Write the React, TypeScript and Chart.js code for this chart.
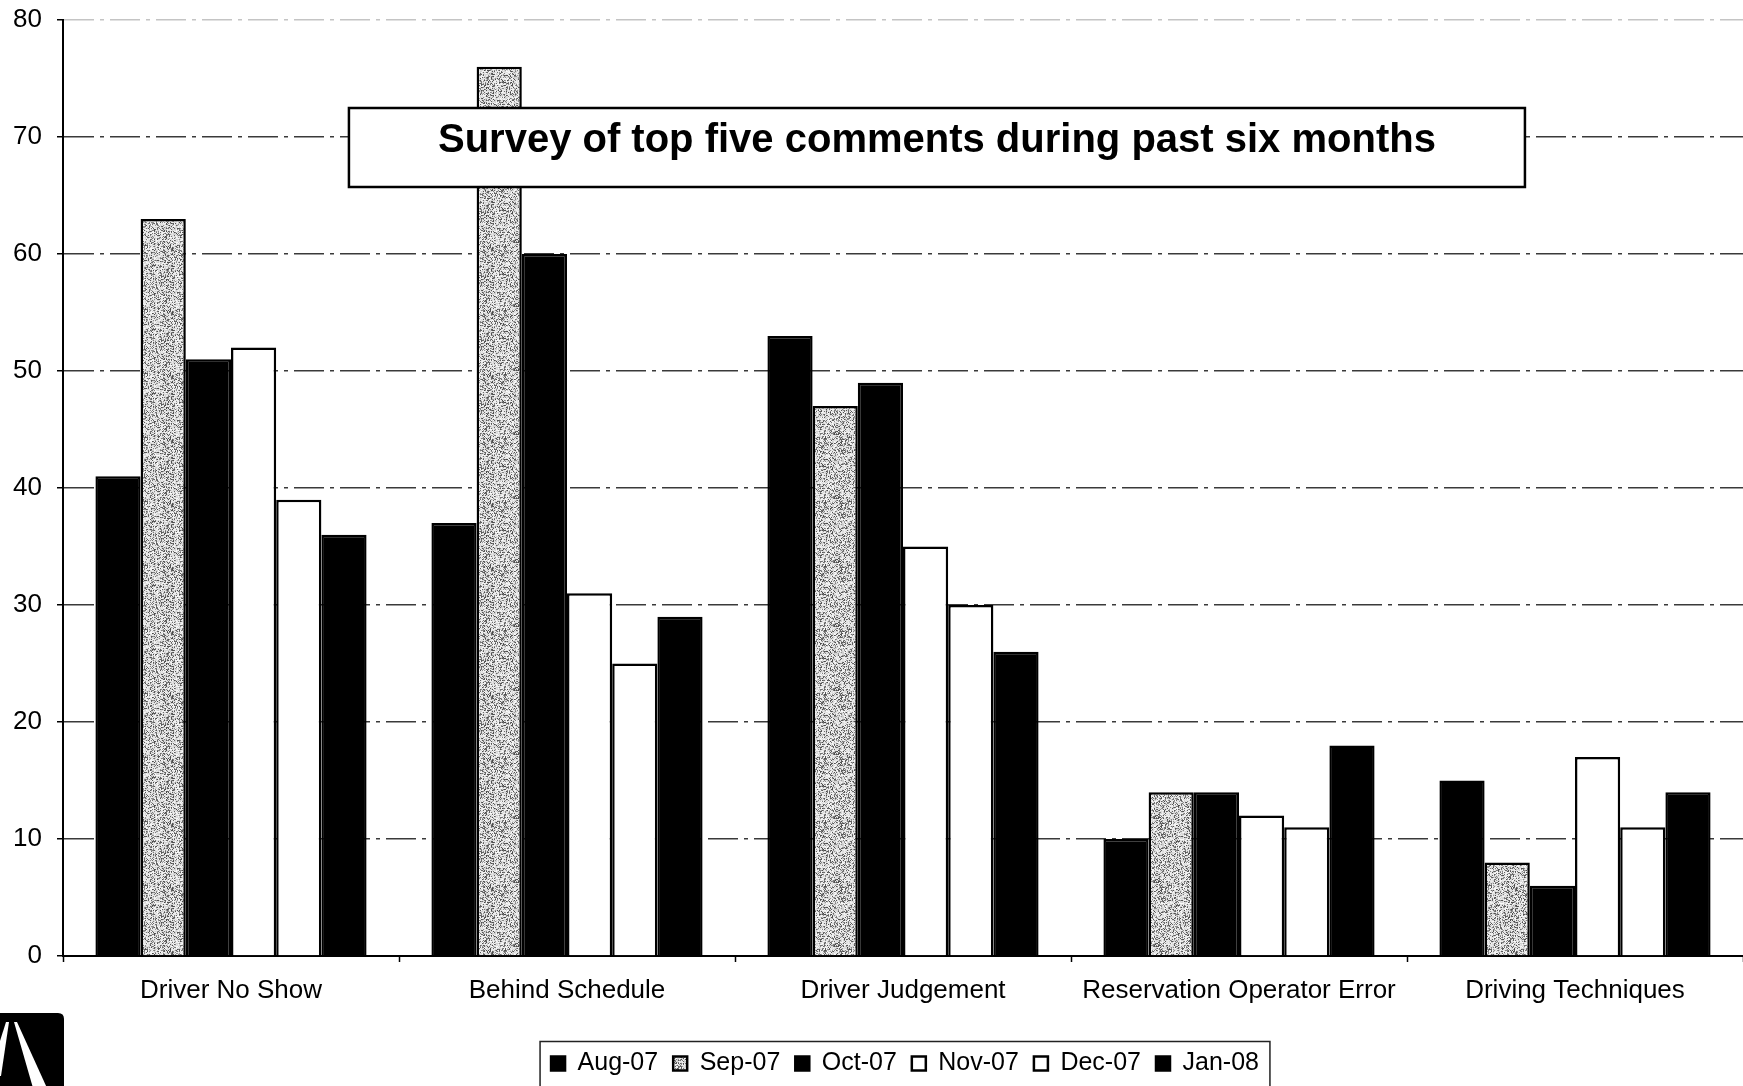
import React, { useEffect, useRef } from 'react';
import { Chart, registerables } from 'chart.js';

Chart.register(...registerables);

// Complaint categories and monthly comment counts
const categories = [
  'Driver No Show',
  'Behind Schedule',
  'Driver Judgement',
  'Reservation Operator Error',
  'Driving Techniques',
];
const months = ['Aug-07', 'Sep-07', 'Oct-07', 'Nov-07', 'Dec-07', 'Jan-08'];
const aug07 = [41, 37, 53, 10, 15];
const sep07 = [63, 76, 47, 14, 8];
const oct07 = [51, 60, 49, 14, 6];
const nov07 = [52, 31, 35, 12, 17];
const dec07 = [39, 25, 30, 11, 11];
const jan08 = [36, 29, 26, 18, 14];
const yMin = 0;
const yMax = 80;
const yStep = 10;
const chartTitle = 'Survey of top five comments during past six months';

const FONT = '"Liberation Sans", Arial, Helvetica, sans-serif';

// Grey speckled fill used for the Sep-07 series
function makeStipple(ctx: CanvasRenderingContext2D): CanvasPattern | string {
  const size = 64;
  const off = document.createElement('canvas');
  off.width = size;
  off.height = size;
  const g = off.getContext('2d');
  if (!g) return '#bdbdbd';
  const img = g.createImageData(size, size);
  let seed = 987654321;
  for (let i = 0; i < size * size; i++) {
    seed = (seed * 1664525 + 1013904223) >>> 0;
    const r = seed / 4294967296;
    const v = r < 0.33 ? 70 + Math.floor(r * 260) : 205 + Math.floor((r - 0.33) * 70);
    img.data[i * 4] = v;
    img.data[i * 4 + 1] = v;
    img.data[i * 4 + 2] = v;
    img.data[i * 4 + 3] = 255;
  }
  g.putImageData(img, 0, 0);
  return ctx.createPattern(off, 'repeat') || '#bdbdbd';
}

// Boxed title sitting over the plot area
const titleBoxPlugin = {
  id: 'titleBox',
  afterDatasetsDraw(chart: any) {
    const { ctx, chartArea } = chart;
    const w = chartArea.right - chartArea.left;
    const x0 = chartArea.left + w * 0.1702;
    const x1 = chartArea.left + w * 0.8702;
    const y0 = chartArea.top + 88;
    const y1 = chartArea.top + 167;
    ctx.save();
    ctx.fillStyle = '#fff';
    ctx.fillRect(x0, y0, x1 - x0, y1 - y0);
    ctx.lineWidth = 2.5;
    ctx.strokeStyle = '#000';
    ctx.strokeRect(x0, y0, x1 - x0, y1 - y0);
    ctx.fillStyle = '#000';
    ctx.font = `bold 40px ${FONT}`;
    ctx.textAlign = 'center';
    ctx.textBaseline = 'alphabetic';
    ctx.fillText(chartTitle, (x0 + x1) / 2, y0 + 44);
    ctx.restore();
  },
};

// Centre the legend row under the plot area rather than the whole canvas
const LEGEND_SHIFT = 32;
const legendShiftPlugin = {
  id: 'legendShift',
  afterLayout(chart: any) {
    const lg = chart.legend;
    if (!lg) return;
    lg.left += LEGEND_SHIFT;
    lg.right += LEGEND_SHIFT;
    if (lg.legendHitBoxes) {
      for (const b of lg.legendHitBoxes) b.left += LEGEND_SHIFT;
    }
  },
};

// Frame around the legend row, plus the corner emblem
const legendFramePlugin = {
  id: 'legendFrame',
  afterDraw(chart: any) {
    const { ctx } = chart;
    const lg = chart.legend;
    if (lg && lg.legendHitBoxes && lg.legendHitBoxes.length) {
      const boxes = lg.legendHitBoxes;
      let minX = Infinity;
      let maxX = -Infinity;
      let cy = 0;
      for (const b of boxes) {
        minX = Math.min(minX, b.left);
        maxX = Math.max(maxX, b.left + b.width);
        cy = b.top + b.height / 2;
      }
      ctx.save();
      ctx.strokeStyle = '#222';
      ctx.lineWidth = 1.5;
      ctx.strokeRect(minX - 11, cy - 22, maxX - minX + 22, 60);
      ctx.restore();
    }
    // emblem at lower-left corner
    const h = chart.height;
    ctx.save();
    ctx.fillStyle = '#000';
    ctx.beginPath();
    ctx.moveTo(-2, h - 73);
    ctx.lineTo(58, h - 73);
    ctx.quadraticCurveTo(64, h - 73, 64, h - 67);
    ctx.lineTo(64, h + 2);
    ctx.lineTo(-2, h + 2);
    ctx.closePath();
    ctx.fill();
    ctx.fillStyle = '#fff';
    ctx.beginPath();
    ctx.moveTo(6, h - 64);
    ctx.lineTo(9, h - 64);
    ctx.lineTo(1, h - 10);
    ctx.lineTo(0, h - 10);
    ctx.lineTo(0, h - 45);
    ctx.closePath();
    ctx.fill();
    ctx.beginPath();
    ctx.moveTo(14, h - 64);
    ctx.lineTo(17, h - 64);
    ctx.lineTo(47, h + 2);
    ctx.lineTo(33, h + 2);
    ctx.closePath();
    ctx.fill();
    ctx.restore();
  },
};

export default function App() {
  const canvasRef = useRef<HTMLCanvasElement | null>(null);

  useEffect(() => {
    const canvas = canvasRef.current;
    if (!canvas) return;
    const ctx = canvas.getContext('2d');
    if (!ctx) return;
    const stipple = makeStipple(ctx);

    const seriesValues = [aug07, sep07, oct07, nov07, dec07, jan08];
    const fills = ['#000', stipple, '#000', '#fff', '#fff', '#000'];

    const chart = new Chart(ctx, {
      type: 'bar',
      data: {
        labels: categories,
        datasets: months.map((m, i) => ({
          label: m,
          data: seriesValues[i],
          backgroundColor: fills[i] as any,
          borderColor: '#000',
          borderWidth: 2.5,
          categoryPercentage: 0.807,
          barPercentage: 1,
        })),
      },
      options: {
        responsive: false,
        animation: false,
        devicePixelRatio: 1,
        layout: { padding: { top: 20, left: 0, right: -3, bottom: 0 } },
        font: { family: FONT },
        plugins: {
          title: { display: false },
          tooltip: { enabled: false },
          legend: {
            position: 'bottom',
            labels: {
              color: '#000',
              font: { size: 25, family: FONT },
              boxWidth: 14,
              boxHeight: 14,
              padding: 15,
            },
          },
        },
        scales: {
          x: {
            grid: {
              offset: true,
              drawOnChartArea: false,
              drawTicks: true,
              tickLength: 6,
              tickColor: '#000',
              tickWidth: 1.5,
            },
            border: { display: true, color: '#000', width: 2 },
            ticks: {
              color: '#000',
              font: { size: 26, family: FONT },
              padding: 13,
              maxRotation: 0,
              autoSkip: false,
            },
            afterFit: (s: any) => {
              s.height = 80;
            },
          },
          y: {
            min: yMin,
            max: yMax,
            ticks: {
              stepSize: yStep,
              color: '#000',
              font: { size: 26, family: FONT },
              padding: 15,
            },
            grid: {
              color: (c: any) => (c.tick && c.tick.value === yMax ? '#c4c4c4' : '#3a3a3a'),
              lineWidth: 1.5,
              drawTicks: true,
              tickLength: 6,
              tickColor: '#000',
              tickWidth: 1.5,
              tickBorderDash: [],
            },
            border: { display: true, color: '#000', width: 2, dash: [30, 6, 4, 6] },
            afterFit: (s: any) => {
              s.width = 63;
              s.paddingTop = 0;
              s.paddingBottom = 0;
            },
          },
        },
      },
      plugins: [titleBoxPlugin, legendShiftPlugin, legendFramePlugin],
    });

    return () => {
      chart.destroy();
    };
  }, []);

  return (
    <div
      style={{
        position: 'fixed',
        left: 0,
        top: 0,
        width: 1743,
        height: 1086,
        overflow: 'hidden',
        background: '#fff',
      }}
    >
      <canvas ref={canvasRef} width={1743} height={1086} style={{ display: 'block' }} />
    </div>
  );
}
